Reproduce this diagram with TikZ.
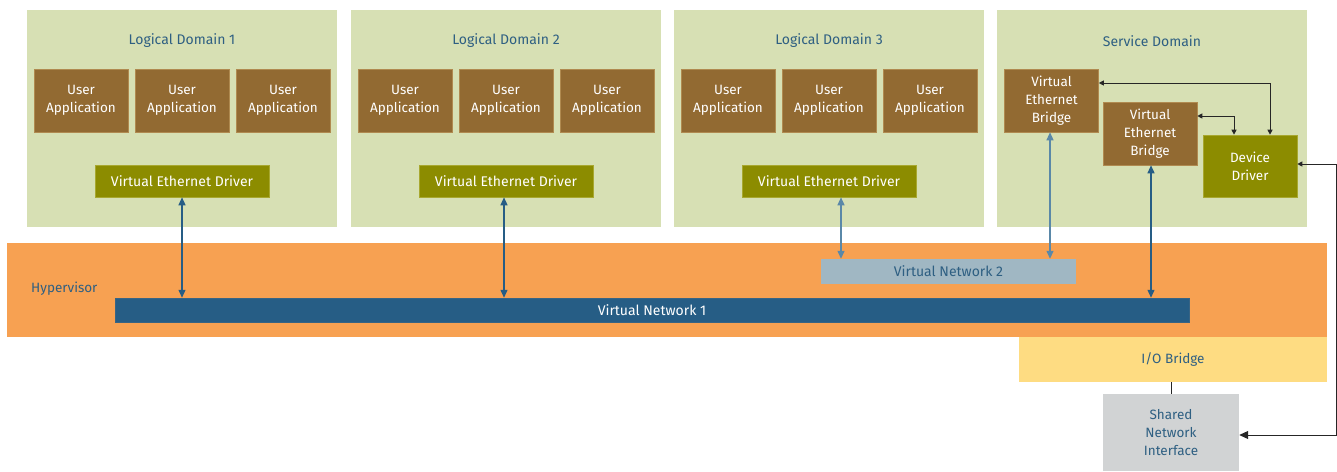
\documentclass[tikz,border=0pt]{standalone}
\usepackage{fontspec}
\setmainfont{Fira Sans}
\usetikzlibrary{arrows.meta,calc}
\definecolor{domgreen}{HTML}{D7E0B4}
\definecolor{appbrown}{HTML}{926A32}
\definecolor{appedge}{HTML}{B08A50}
\definecolor{olive}{HTML}{8C8C00}
\definecolor{oliveedge}{HTML}{A8A830}
\definecolor{hyporange}{HTML}{F7A152}
\definecolor{vnone}{HTML}{265D85}
\definecolor{vntwo}{HTML}{A0B7C3}
\definecolor{iobr}{HTML}{FEDC82}
\definecolor{snigray}{HTML}{D1D3D4}
\definecolor{txtblue}{HTML}{2E5F82}
\definecolor{arrblue}{HTML}{265D85}
\definecolor{arrlight}{HTML}{5A88A8}
\begin{document}
\begin{tikzpicture}[x=1pt,y=-1pt,
  every node/.style={inner sep=0pt, font=\fontsize{13.5}{18}\selectfont},
  dom/.style={fill=domgreen, minimum width=310pt, minimum height=217pt, anchor=north west},
  domtitle/.style={text=txtblue, font=\fontsize{14}{18}\selectfont},
  app/.style={fill=appbrown, draw=appedge, line width=0.6pt, text=white, align=center, minimum width=94pt, minimum height=63pt},
  ved/.style={fill=olive, draw=oliveedge, line width=0.6pt, text=white, minimum width=174pt, minimum height=32pt, font=\fontsize{14}{18}\selectfont},
  barrow/.style={draw=arrblue, line width=1.3pt, {Triangle[width=7pt,length=8pt]}-{Triangle[width=7pt,length=8pt]}},
  larrow/.style={draw=arrlight, line width=1.3pt, {Triangle[width=7pt,length=8pt]}-{Triangle[width=7pt,length=8pt]}},
  karrow/.style={draw=black!85, line width=1pt, {Triangle[width=5pt,length=5pt]}-{Triangle[width=5pt,length=5pt]}},
]
\useasboundingbox (0,0) rectangle (1337,471);

% domains
\foreach \dx/\n in {0/1,324/2,647/3}{
  \node[dom] (ld\n) at (27+\dx,10) {};
  \node[domtitle] (ldt\n) at (182+\dx,41) {Logical Domain \n};
  \node[app] (app\n a) at (81+\dx,100.5) {User\\Application};
  \node[app] (app\n b) at (182+\dx,100.5) {User\\Application};
  \node[app] (app\n c) at (283+\dx,100.5) {User\\Application};
  \node[ved] (ved\n) at (182+\dx,181) {Virtual Ethernet Driver};
}
\node[dom] (sd) at (997,10) {};
\node[domtitle] (sdt) at (1152,41) {Service Domain};
\node[app] (veb1) at (1051.5,100.5) {Virtual\\Ethernet\\Bridge};
\node[app] (veb2) at (1150,133.5) {Virtual\\Ethernet\\Bridge};
\node[ved, align=center, minimum width=94pt, minimum height=62pt, font=\fontsize{13.5}{18}\selectfont] (dd) at (1250,166) {Device\\Driver};

% hypervisor
\node[fill=hyporange, minimum width=1320pt, minimum height=94pt] (hyp) at (667,290) {};
\node[text=txtblue, anchor=west] (hypt) at (31,289) {Hypervisor};
\node[fill=vnone, draw=vnone!80!gray, line width=0.5pt, text=white, minimum width=1074pt, minimum height=24pt, font=\fontsize{14}{18}\selectfont] (vn1) at (652,310) {Virtual Network 1};
\node[fill=vntwo, text=txtblue, minimum width=255pt, minimum height=25pt, font=\fontsize{14}{18}\selectfont] (vn2) at (948.5,271.5) {Virtual Network 2};
\node[fill=iobr, text=txtblue, minimum width=308pt, minimum height=45pt] (io) at (1173,359.5) {I/O Bridge};
\node[fill=snigray, text=txtblue, align=center, minimum width=136pt, minimum height=77pt] (sni) at (1171,432.5) {Shared\\Network\\Interface};

% blue connectors
\draw[barrow] (ved1.south) -- (ved1.south |- vn1.north);
\draw[barrow] ([xshift=-2pt]ved2.south) -- ([xshift=-2pt]ved2.south |- vn1.north);
\draw[larrow] ([xshift=12pt]ved3.south) -- ([xshift=12pt]ved3.south |- vn2.north);
\draw[larrow] ([xshift=-1.5pt]veb1.south) -- ([xshift=-1.5pt]veb1.south |- vn2.north);
\draw[barrow] ([xshift=1pt]veb2.south) -- ([xshift=1pt]veb2.south |- vn1.north);

% black connectors
\draw[karrow] ([yshift=17.5pt]veb1.east) -| ([xshift=20pt]dd.north);
\draw[karrow] ([yshift=17.5pt]veb2.east) -| ([xshift=-16pt]dd.north);
\coordinate (rt) at (1336,164);
\coordinate (rb) at (1336,435);
\draw[draw=black!85, line width=1pt, {Triangle[width=5pt,length=5pt]}-{Triangle[width=8pt,length=9pt]}]
  ([yshift=2pt]dd.east) -- (rt) -- (rb) -- ([yshift=-2.5pt]sni.east);
\draw[draw=black!85, line width=1pt] (sni.north |- io.south) -- (sni.north);
\end{tikzpicture}
\end{document}
